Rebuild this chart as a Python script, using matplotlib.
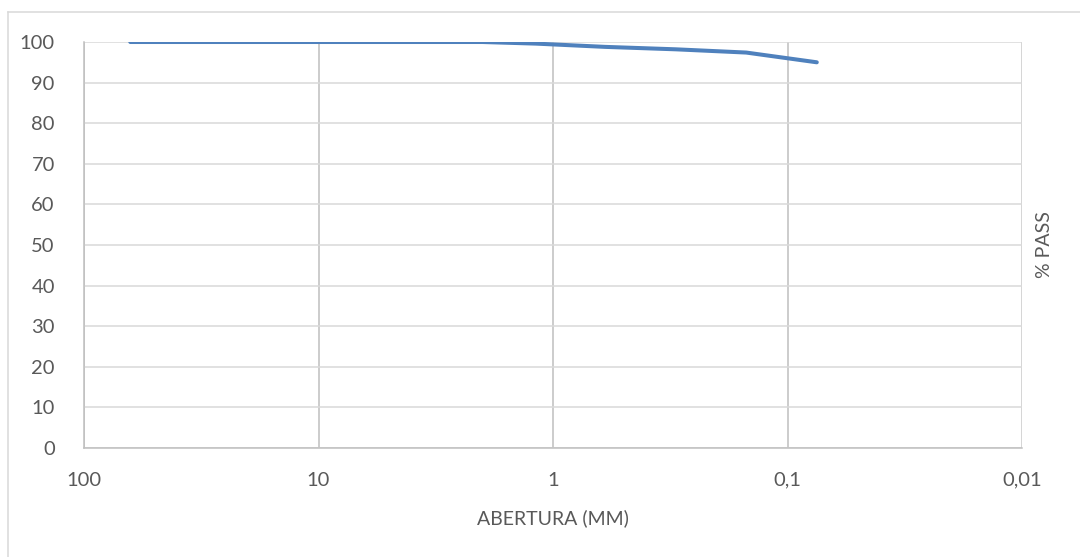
import numpy as np
import matplotlib
matplotlib.use('Agg')
import matplotlib.pyplot as plt
from matplotlib.lines import Line2D

# granulometria: abertura da peneira (mm) e % passante
abertura = [63.5, 25.4, 9.5, 4.75, 2.0, 1.18, 0.6, 0.3, 0.15, 0.075]
passante = [100, 100, 100, 100, 100, 99.6, 98.8, 98.2, 97.4, 95.0]

x_ticks = [100, 10, 1, 0.1, 0.01]
x_labels = ['100', '10', '1', '0,1', '0,01']
y_ticks = list(range(0, 101, 10))

plt.rcParams['font.family'] = ['Lato', 'DejaVu Sans']

fig = plt.figure(figsize=(10.8, 5.57), dpi=100)
ax = fig.add_axes([84 / 1080, 109 / 557, 938 / 1080, 406 / 557])

ax.plot(abertura, passante, color='#4F81BD', lw=2.9, solid_capstyle='round')

ax.set_xscale('log')
ax.set_xlim(100, 0.01)
ax.set_ylim(0, 100)
ax.set_xticks(x_ticks)
ax.set_xticklabels(x_labels)
ax.minorticks_off()
ax.set_yticks(y_ticks)

ax.grid(axis='y', color='#D9D9D9', lw=1.1)
ax.grid(axis='x', color='#BFBFBF', lw=1.1)
for side in ['top', 'right']:
    ax.spines[side].set_visible(False)
for side in ['left', 'bottom']:
    ax.spines[side].set_color('#BFBFBF')
    ax.spines[side].set_linewidth(1.1)
ax.axvline(0.01, color='#D9D9D9', lw=1.1)
ax.set_axisbelow(True)

ax.tick_params(axis='both', length=0, labelsize=14.5, colors='#595959')
ax.tick_params(axis='y', pad=21)
ax.tick_params(axis='x', pad=17)

ax.set_xlabel('ABERTURA (MM)', fontsize=14, color='#595959', labelpad=15)
ax.yaxis.set_label_position('right')
ax.set_ylabel('% PASS', fontsize=14, color='#595959', labelpad=10)

# chart border (Excel chart area)
fig.add_artist(Line2D([8 / 1080, 8 / 1080], [0, 1 - 12 / 557], color='#D9D9D9', lw=1.1))
fig.add_artist(Line2D([8 / 1080, 1], [1 - 12 / 557, 1 - 12 / 557], color='#D9D9D9', lw=1.1))

fig.savefig('out.png', dpi=100)
